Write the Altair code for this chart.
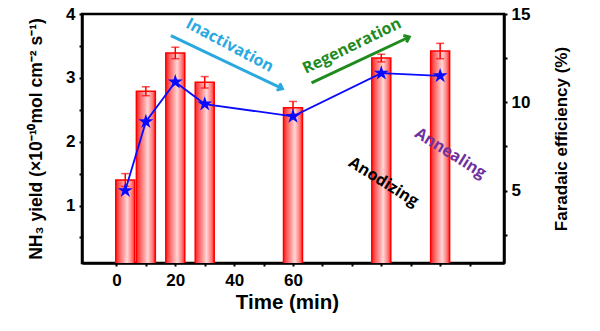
import altair as alt
import pandas as pd

# ---- data ----
time_min = [3, 10, 20, 30, 60, 90, 110]
nh3_yield = [1.40, 2.79, 3.39, 2.93, 2.53, 3.31, 3.42]
nh3_err = [0.10, 0.07, 0.09, 0.09, 0.10, 0.06, 0.12]
faradaic_eff = [5.0, 8.9, 11.15, 9.9, 9.2, 11.65, 11.5]

ann_text = ["Inactivation", "Regeneration", "Anodizing", "Annealing"]
ann_x = [38.5, 80.0, 90.8, 113.5]
ann_y = [3.51, 3.50, 1.37, 1.82]
ann_angle = [28, 334, 32, 32]
ann_color = ["#29A9E0", "#1E8B1E", "#000000", "#7030A0"]

arrow_x1 = [18.5, 66.3]
arrow_y1 = [3.66, 2.92]
arrow_x2 = [56.4, 99.5]
arrow_y2 = [2.83, 3.64]
arrow_angle = [25, 335]
arrow_color = ["#29A9E0", "#1E8B1E"]

x_ticks = list(range(0, 121, 10))
left_ticks = [0.5, 1, 1.5, 2, 2.5, 3, 3.5, 4]
right_ticks = [2.5, 5, 7.5, 10, 12.5, 15]

df = pd.DataFrame({
    "t": time_min,
    "y": nh3_yield,
    "lo": [v - e for v, e in zip(nh3_yield, nh3_err)],
    "hi": [v + e for v, e in zip(nh3_yield, nh3_err)],
    "fe": faradaic_eff,
})
ann = pd.DataFrame({"text": ann_text, "x": ann_x, "y": ann_y,
                    "angle": ann_angle, "color": ann_color})
arr = pd.DataFrame({"x1": arrow_x1, "y1": arrow_y1, "x2": arrow_x2,
                    "y2": arrow_y2, "angle": arrow_angle, "color": arrow_color})

FONT = "Liberation Sans"
xscale = alt.Scale(domain=[-10, 130], nice=False, zero=False)
lscale = alt.Scale(domain=[0.1, 4], nice=False, zero=False)
rscale = alt.Scale(domain=[0.9, 15], nice=False, zero=False)

x_axis = alt.Axis(values=x_ticks, title="Time (min)",
                  labelExpr="datum.value <= 60 && datum.value % 20 == 0 ? datum.label : ''",
                  labelPadding=6, titlePadding=4, titleFontSize=20.5, titleX=205)

grad = alt.Gradient(
    gradient="linear", x1=0, x2=1, y1=0, y2=0,
    stops=[
        alt.GradientStop(offset=0, color="#ff2020"),
        alt.GradientStop(offset=0.2, color="#ff6060"),
        alt.GradientStop(offset=0.6, color="#ffd6d6"),
        alt.GradientStop(offset=0.85, color="#ff7a7a"),
        alt.GradientStop(offset=1, color="#ff2020"),
    ],
)

left_axis = alt.Axis(values=left_ticks, title="NH₃ yield (×10⁻¹⁰mol cm⁻² s⁻¹)",
                     labelExpr="datum.value % 1 == 0 ? format(datum.value, 'd') : ''",
                     titleFontSize=17.5, titlePadding=20, labelPadding=4)


def X(field):
    return alt.X(field, type="quantitative", scale=xscale, axis=x_axis)


def YL(field):
    return alt.Y(field, type="quantitative", scale=lscale, axis=left_axis)


bars = alt.Chart(df).mark_bar(size=19, color=grad, stroke="#ff0000",
                              strokeWidth=1.5, clip=True).encode(
    x=X("t"), y=YL("y"),
)
err = alt.Chart(df).mark_rule(color="#ff0000", strokeWidth=1.5).encode(
    x=X("t"), y=YL("lo"), y2="hi:Q",
)
caps_hi = alt.Chart(df).mark_tick(color="#ff0000", orient="horizontal",
                                  size=8, thickness=1.5).encode(
    x=X("t"), y=YL("hi"),
)
caps_lo = alt.Chart(df).mark_tick(color="#ff0000", orient="horizontal",
                                  size=8, thickness=1.5).encode(
    x=X("t"), y=YL("lo"),
)
texts = alt.Chart(ann).mark_text(font="Open Sans", fontWeight="bold", fontSize=16).encode(
    x=X("x"), y=YL("y"),
    text="text:N",
    angle=alt.Angle("angle:Q", scale=None),
    color=alt.Color("color:N", scale=None),
)
arrow_lines = alt.Chart(arr).mark_rule(strokeWidth=3).encode(
    x=X("x1"), y=YL("y1"), x2="x2:Q", y2="y2:Q",
    color=alt.Color("color:N", scale=None),
)
arrow_heads = alt.Chart(arr).mark_point(
    shape="M-1,-0.8L0,0L-1,0.8", filled=False, strokeWidth=3, size=90, opacity=1
).encode(
    x=X("x2"), y=YL("y2"),
    angle=alt.Angle("angle:Q", scale=None),
    color=alt.Color("color:N", scale=None),
)

left = alt.layer(bars, err, caps_hi, caps_lo, arrow_lines, arrow_heads, texts)

right_axis = alt.Axis(values=right_ticks, orient="right", title="Faradaic efficiency (%)",
                      labelExpr="datum.value % 5 == 0 ? datum.label : ''",
                      titleFontSize=17, titlePadding=24, labelPadding=4,
                      titleAngle=270, titleBaseline="top")
line = alt.Chart(df).mark_line(color="#0a0aff", strokeWidth=1.8).encode(
    x=X("t"),
    y=alt.Y("fe:Q", scale=rscale, axis=right_axis),
)
STAR = ("M0,-1L0.224,-0.309L0.951,-0.309L0.363,0.118L0.588,0.809L0,0.382"
        "L-0.588,0.809L-0.363,0.118L-0.951,-0.309L-0.224,-0.309Z")
stars = alt.Chart(df).mark_point(shape=STAR, filled=True, color="#0a0aff",
                                 size=250, opacity=1).encode(
    x=X("t"),
    y=alt.Y("fe:Q", scale=rscale, axis=right_axis),
)
right = alt.layer(line, stars)

chart = alt.layer(left, right).resolve_scale(y="independent").properties(
    width=422, height=249,
    autosize=alt.AutoSizeParams(type="none"),
    padding={"left": 82, "top": 14, "right": 96, "bottom": 68},
    background="white",
).configure_view(
    stroke="black", strokeWidth=2.5
).configure_axis(
    grid=False, domainColor="black", domainWidth=2.5, tickColor="black",
    tickWidth=2, tickSize=3, labelFont=FONT, labelFontWeight="bold",
    labelFontSize=17, labelColor="black", titleFont=FONT, titleFontWeight="bold",
    titleColor="black",
)

chart.save("out.html", embed_options={"renderer": "svg", "actions": False})
